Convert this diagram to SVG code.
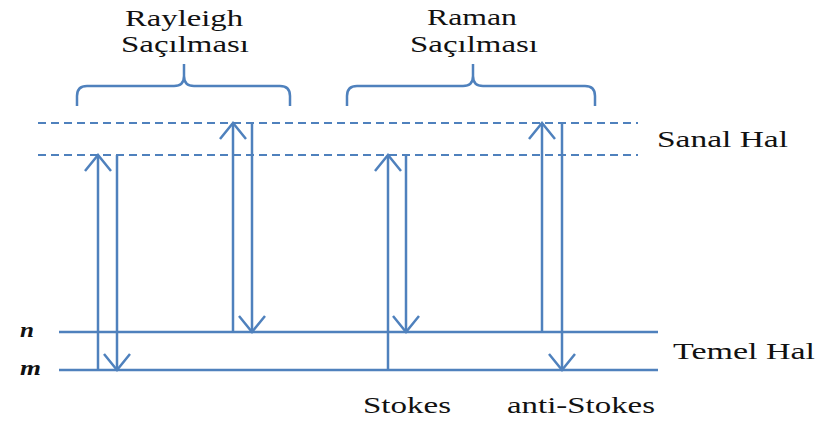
<svg xmlns="http://www.w3.org/2000/svg" width="820" height="423" viewBox="0 0 820 423">
<defs>
<marker id="head" markerUnits="userSpaceOnUse" markerWidth="40" markerHeight="40" viewBox="-20 -20 40 40" refX="0" refY="0" orient="auto" overflow="visible">
<path d="M-16,-13 L0,0 L-16,13" fill="none" stroke="#4F81BD" stroke-width="2.5"/>
</marker>
</defs>
<style>
.ln{stroke:#4F81BD;stroke-width:2.5;fill:none}
.dash{stroke:#4F81BD;stroke-width:2.2;stroke-dasharray:8 5;fill:none}
.arr{stroke:#4F81BD;stroke-width:2.5;fill:none;marker-end:url(#head)}
.t{font-family:"Liberation Serif","Times New Roman",serif;font-size:24px;fill:#111}
.it{font-family:"Liberation Serif","Times New Roman",serif;font-size:22px;font-style:italic;font-weight:bold;fill:#111}
</style>
<g id="levels">
<line id="sanal-upper" class="dash" x1="38" y1="123" x2="638" y2="123"/>
<line id="sanal-lower" class="dash" x1="38" y1="155" x2="638" y2="155"/>
<line id="level-n" class="ln" x1="59" y1="332" x2="658" y2="332"/>
<line id="level-m" class="ln" x1="59" y1="370" x2="658" y2="370"/>
</g>
<g id="connectors">
<line class="arr" x1="98" y1="370" x2="98" y2="155"/>
<line class="arr" x1="117" y1="155" x2="117" y2="370"/>
<line class="arr" x1="233" y1="332" x2="233" y2="123"/>
<line class="arr" x1="252" y1="123" x2="252" y2="332"/>
<line class="arr" x1="388" y1="370" x2="388" y2="155"/>
<line class="arr" x1="406" y1="155" x2="406" y2="332"/>
<line class="arr" x1="542" y1="332" x2="542" y2="123"/>
<line class="arr" x1="562" y1="123" x2="562" y2="370"/>
</g>
<g id="rayleigh">
<path class="ln" d="M77,106 V96 Q77,86 87,86 H174 Q184,86 184,76 V64 M184,76 Q184,86 194,86 H280 Q290,86 290,96 V106"/>
<text class="t" x="125" y="26" textLength="118" lengthAdjust="spacingAndGlyphs">Rayleigh</text>
<text class="t" x="121" y="52" textLength="128" lengthAdjust="spacingAndGlyphs">Saçılması</text>
</g>
<g id="raman">
<path class="ln" d="M347,106 V96 Q347,86 357,86 H463 Q473,86 473,76 V64 M473,76 Q473,86 483,86 H585 Q595,86 595,96 V106"/>
<text class="t" x="427" y="25" textLength="90" lengthAdjust="spacingAndGlyphs">Raman</text>
<text class="t" x="410" y="52" textLength="128" lengthAdjust="spacingAndGlyphs">Saçılması</text>
</g>
<g id="labels">
<text class="t" x="657" y="147" textLength="131" lengthAdjust="spacingAndGlyphs">Sanal Hal</text>
<text class="t" x="673" y="359" textLength="142" lengthAdjust="spacingAndGlyphs">Temel Hal</text>
<text class="it" x="20" y="337" textLength="14" lengthAdjust="spacingAndGlyphs">n</text>
<text class="it" x="20" y="375" textLength="21" lengthAdjust="spacingAndGlyphs">m</text>
<text class="t" x="363" y="413" textLength="88" lengthAdjust="spacingAndGlyphs">Stokes</text>
<text class="t" x="507" y="413" textLength="148" lengthAdjust="spacingAndGlyphs">anti-Stokes</text>
</g>
</svg>
